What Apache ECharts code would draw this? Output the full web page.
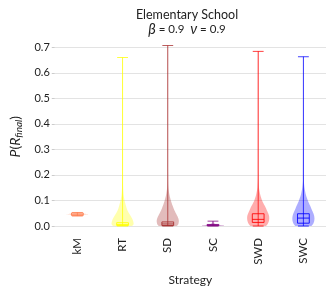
<!DOCTYPE html>
<html><head><meta charset="utf-8">
<script src="https://cdn.jsdelivr.net/npm/echarts@6/dist/echarts.min.js"></script>
<style>html,body{margin:0;padding:0;background:#fff;overflow:hidden}#c{width:330px;height:291px}</style>
</head><body><div id="c"></div>
<script>
const categories = ['kM', 'RT', 'SD', 'SC', 'SWD', 'SWC'];
const colors = ['#ff7f50', '#ffff00', '#a52a2a', '#800080', '#ff0000', '#0000ff'];
const yTicks = [0.0, 0.1, 0.2, 0.3, 0.4, 0.5, 0.6, 0.7];

const whiskerLow  = [0.039, 0.000, 0.000, 0.000, 0.000, 0.000];
const q1          = [0.041, 0.002, 0.002, 0.001, 0.014, 0.011];
const median      = [0.046, 0.006, 0.008, 0.003, 0.026, 0.031];
const q3          = [0.051, 0.013, 0.016, 0.006, 0.048, 0.048];
const whiskerHigh = [0.053, 0.660, 0.707, 0.019, 0.684, 0.663];

const kmLevels  = [0.039, 0.043, 0.046, 0.049, 0.053];
const kmDensity = [0.05, 0.5, 1.0, 0.5, 0.05];
const rtLevels  = [0, 0.005, 0.01, 0.02, 0.03, 0.04, 0.05, 0.06, 0.07, 0.08, 0.09, 0.1, 0.12, 0.15, 0.2, 0.66];
const rtDensity = [0.85, 0.97, 1.0, 0.95, 0.85, 0.72, 0.58, 0.46, 0.37, 0.3, 0.24, 0.18, 0.1, 0.05, 0.03, 0.02];
const sdLevels  = [0, 0.005, 0.01, 0.02, 0.03, 0.04, 0.05, 0.06, 0.07, 0.08, 0.1, 0.12, 0.15, 0.2, 0.707];
const sdDensity = [0.8, 0.92, 0.97, 1.0, 0.95, 0.85, 0.73, 0.62, 0.52, 0.43, 0.28, 0.16, 0.06, 0.03, 0.02];
const scLevels  = [0, 0.002, 0.004, 0.007, 0.012, 0.019];
const scDensity = [0.95, 1.0, 0.6, 0.25, 0.08, 0.02];
const swdLevels  = [0, 0.005, 0.01, 0.02, 0.03, 0.04, 0.05, 0.06, 0.07, 0.08, 0.1, 0.12, 0.15, 0.2, 0.684];
const swdDensity = [0.7, 0.8, 0.88, 0.97, 1.0, 0.98, 0.9, 0.8, 0.7, 0.58, 0.35, 0.2, 0.07, 0.03, 0.02];
const swcLevels  = [0, 0.005, 0.01, 0.02, 0.03, 0.04, 0.05, 0.06, 0.07, 0.08, 0.1, 0.12, 0.15, 0.18, 0.663];
const swcDensity = [0.72, 0.82, 0.9, 0.98, 1.0, 0.97, 0.9, 0.8, 0.7, 0.6, 0.4, 0.24, 0.1, 0.04, 0.02];

const violinLevels  = [kmLevels, rtLevels, sdLevels, scLevels, swdLevels, swcLevels];
const violinDensity = [kmDensity, rtDensity, sdDensity, scDensity, swdDensity, swcDensity];

const FONT = 'Lato';

function renderItem(params, api) {
  const i = api.value(0);
  const band = api.size([1, 0])[0];
  const cx = api.coord([i, 0])[0];
  const hw = band * 0.245;
  const bw = band * 0.13;
  const cw = band * 0.12;
  const col = colors[i];
  const lv = violinLevels[i], dn = violinDensity[i];
  const pts = [];
  for (let k = 0; k < lv.length; k++) pts.push([cx + dn[k] * hw, api.coord([i, lv[k]])[1]]);
  for (let k = lv.length - 1; k >= 0; k--) pts.push([cx - dn[k] * hw, api.coord([i, lv[k]])[1]]);
  const yLo = api.coord([i, api.value(1)])[1];
  const yQ1 = api.coord([i, api.value(2)])[1];
  const yMed = api.coord([i, api.value(3)])[1];
  const yQ3 = api.coord([i, api.value(4)])[1];
  const yHi = api.coord([i, api.value(5)])[1];
  const lineStyle = { stroke: col, lineWidth: 1, opacity: 0.75 };
  return {
    type: 'group',
    children: [
      { type: 'polygon', shape: { points: pts, smooth: 0.25 }, style: { fill: col, opacity: 0.32 } },
      { type: 'line', shape: { x1: cx, y1: yLo, x2: cx, y2: yHi }, style: lineStyle },
      { type: 'line', shape: { x1: cx - cw, y1: yHi, x2: cx + cw, y2: yHi }, style: lineStyle },
      { type: 'line', shape: { x1: cx - cw, y1: yLo, x2: cx + cw, y2: yLo }, style: lineStyle },
      { type: 'rect', shape: { x: cx - bw, y: yQ3, width: 2 * bw, height: Math.max(yQ1 - yQ3, 1) }, style: { fill: 'none', stroke: col, lineWidth: 1, opacity: 0.85 } },
      { type: 'line', shape: { x1: cx - bw, y1: yMed, x2: cx + bw, y2: yMed }, style: { stroke: col, lineWidth: 1, opacity: 0.85 } }
    ]
  };
}

const chart = echarts.init(document.getElementById('c'), null, { renderer: 'canvas', width: 330, height: 291 });
chart.setOption({
  animation: false,
  backgroundColor: '#fff',
  title: {
    text: '{a|Elementary School}\n{g|β}{b| = 0.9  }{g|ν}{b| = 0.9}',
    left: 182, top: 2, textAlign: 'center',
    textStyle: {
      fontWeight: 'normal',
      rich: {
        a: { fontFamily: FONT, fontSize: 12.5, fontWeight: 'normal', color: '#222', lineHeight: 15 },
        b: { fontFamily: FONT, fontSize: 11.5, fontWeight: 'normal', color: '#222', lineHeight: 15 },
        g: { fontFamily: FONT, fontSize: 14.5, fontWeight: 'normal', fontStyle: 'italic', color: '#222', lineHeight: 15 }
      }
    }
  },
  grid: { left: 38, right: 4, top: 47.3, bottom: 60, containLabel: false },
  xAxis: {
    type: 'category', data: categories,
    axisLine: { show: false }, axisTick: { show: false },
    axisLabel: { rotate: 90, margin: 12, fontFamily: FONT, fontSize: 11.5, color: '#222' },
    name: 'Strategy', nameLocation: 'middle', nameGap: 48,
    nameTextStyle: { fontFamily: FONT, fontSize: 12, color: '#222' }
  },
  yAxis: {
    type: 'value', min: 0, max: 0.7, interval: 0.1,
    axisLine: { show: false },
    axisTick: { show: true, length: 3, lineStyle: { color: '#ccc' } },
    axisLabel: { margin: 5, fontFamily: FONT, fontSize: 11, color: '#222', formatter: v => v.toFixed(1) },
    splitLine: { lineStyle: { color: '#e3e3e3', width: 1 } },
    name: '{i|P}{n|(}{i|R}{s|final}{n|)}', nameLocation: 'middle', nameGap: 24, nameRotate: 90,
    nameTextStyle: {
      rich: {
        i: { fontFamily: FONT, fontSize: 14, fontStyle: 'italic', color: '#222' },
        n: { fontFamily: FONT, fontSize: 14, color: '#222' },
        s: { fontFamily: FONT, fontSize: 10, fontStyle: 'italic', color: '#222', verticalAlign: 'bottom', padding: [7, 0, 0, 0] }
      }
    }
  },
  series: [{
    type: 'custom',
    renderItem: renderItem,
    clip: false,
    data: categories.map((c, i) => [i, whiskerLow[i], q1[i], median[i], q3[i], whiskerHigh[i]])
  }]
});
</script>
</body></html>
